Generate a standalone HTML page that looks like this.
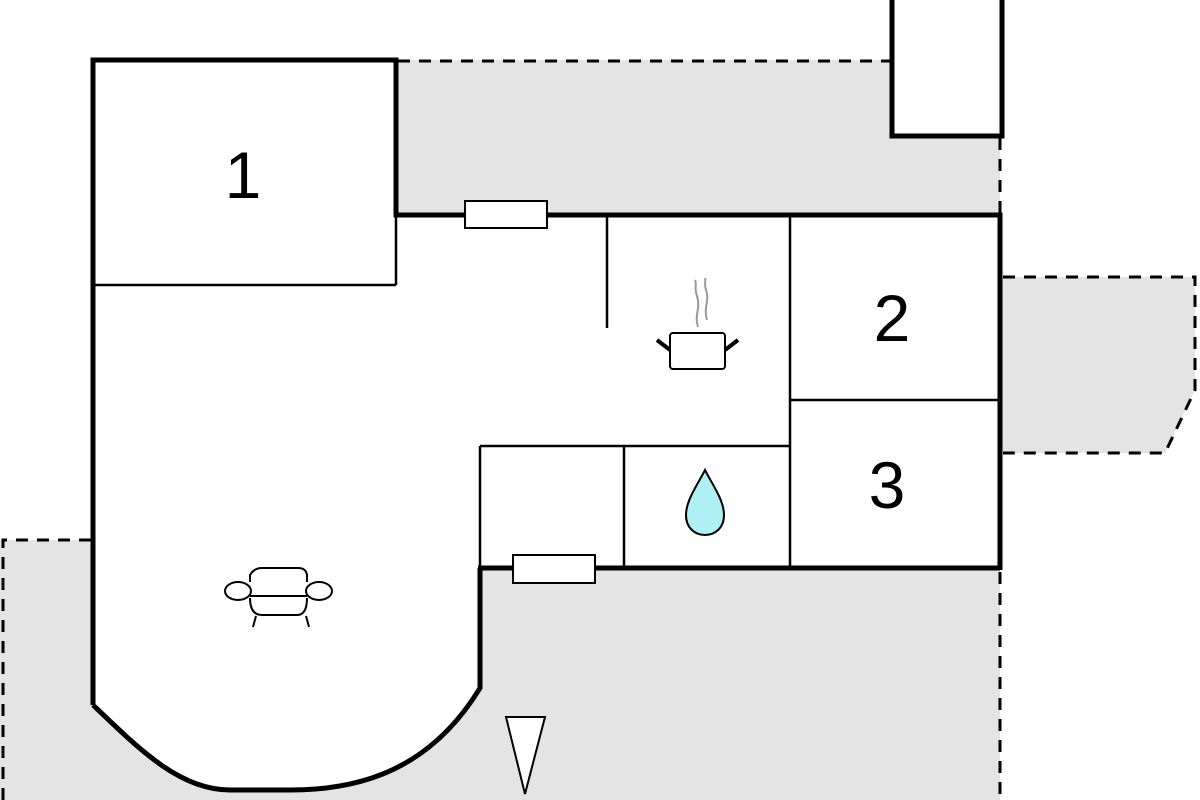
<!DOCTYPE html>
<html><head><style>html,body{margin:0;padding:0;background:#fff}svg{display:block}</style></head>
<body>
<svg width="1200" height="800" viewBox="0 0 1200 800" xmlns="http://www.w3.org/2000/svg">
<!-- gray areas -->
<rect x="396" y="60" width="604" height="157" fill="#e4e4e4"/>
<rect x="0" y="540" width="1000" height="260" fill="#e4e4e4"/>
<rect x="1000" y="277" width="195" height="176" fill="#e4e4e4"/>
<polygon points="1195,390 1200,390 1200,453 1165,453" fill="#fff"/>
<!-- box top right -->
<rect x="892" y="-5" width="110" height="141" fill="#fff" stroke="#000" stroke-width="5"/>
<!-- dashed lines -->
<g stroke="#000" stroke-width="3" stroke-dasharray="12,9" fill="none">
<line x1="398" y1="61" x2="890" y2="61"/>
<line x1="1000" y1="138" x2="1000" y2="215"/>
<polyline points="1003,277 1195,277 1195,390 1165,453 1003,453"/>
<polyline points="3,800 3,540 93,540"/>
<line x1="1000" y1="572" x2="1000" y2="800"/>
</g>
<!-- building white -->
<path d="M93,60 L396,60 L396,215 L1000,215 L1000,568 L480,568 L480,688 C430,770 360,790 290,790 L230,790 C180,790 140,750 93,705 Z" fill="#fff"/>
<!-- thick walls -->
<g stroke="#000" stroke-width="5" fill="none">
<polyline points="93,705 93,60 396,60 396,215 1000,215 1000,570"/>
<polyline points="478,568 1000,568"/>
<path d="M480,568 L480,688 C430,770 360,790 290,790 L230,790 C180,790 140,750 93,705"/>
</g>
<!-- thin walls -->
<g stroke="#000" stroke-width="2.5" fill="none">
<line x1="93" y1="285" x2="396" y2="285"/>
<line x1="396" y1="215" x2="396" y2="285"/>
<line x1="607" y1="217" x2="607" y2="328"/>
<line x1="790" y1="217" x2="790" y2="568"/>
<line x1="790" y1="400" x2="1000" y2="400"/>
<line x1="480" y1="446" x2="790" y2="446"/>
<line x1="480" y1="446" x2="480" y2="568"/>
<line x1="624" y1="446" x2="624" y2="568"/>
</g>
<!-- windows -->
<rect x="465" y="201" width="82" height="27" fill="#fff" stroke="#000" stroke-width="2"/>
<rect x="513" y="555" width="82" height="28" fill="#fff" stroke="#000" stroke-width="2"/>
<!-- labels -->
<g font-family="Liberation Sans, sans-serif" font-size="66" text-anchor="middle" fill="#000">
<text x="243" y="198">1</text>
<text x="892" y="341">2</text>
<text x="887" y="508">3</text>
</g>
<!-- pot -->
<g stroke="#999" stroke-width="2" fill="none">
<path d="M698,327 C694,315 701,308 697,296 C694,288 697,284 695,280"/>
<path d="M707,320 C703,308 710,300 706,290 C704,284 706,281 705,278"/>
</g>
<rect x="670" y="333" width="55" height="36" rx="3" fill="#fff" stroke="#000" stroke-width="2"/>
<g stroke="#000" stroke-width="4"><line x1="657" y1="340" x2="670" y2="350"/><line x1="725" y1="350" x2="738" y2="340"/></g>
<!-- drop -->
<path d="M705,470 C698,484 686,500 686,515 C686,528 695,535 705,535 C715,535 724,528 724,515 C724,500 712,484 705,470 Z" fill="#aef0f4" stroke="#000" stroke-width="2"/>
<!-- sofa -->
<g stroke="#000" stroke-width="2" fill="#fff">
<path d="M250,582 L250,575 Q254,568 262,568 L298,568 Q306,568 307,575 L307,582"/>
<path d="M250,598 Q250,615 262,615 L297,615 Q307,615 307,598"/>
<line x1="250" y1="596" x2="307" y2="596"/>
<ellipse cx="238" cy="591" rx="13" ry="9"/>
<ellipse cx="319" cy="591" rx="13" ry="9"/>
<line x1="256" y1="616" x2="253" y2="627"/>
<line x1="306" y1="616" x2="309" y2="627"/>
</g>
<!-- triangle -->
<polygon points="506,717 545,717 525,794" fill="#fff" stroke="#000" stroke-width="2"/>
</svg>
</body></html>
